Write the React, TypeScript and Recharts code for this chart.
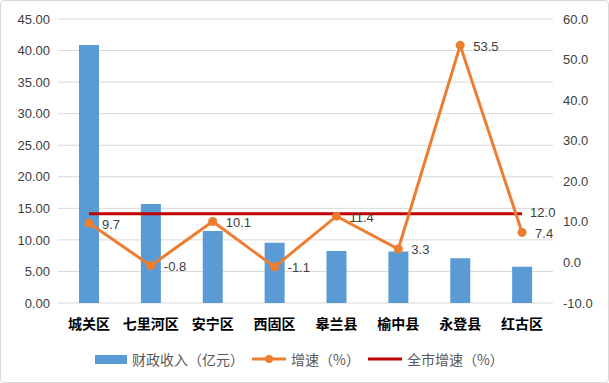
import React from "react";
import {
  Bar,
  CartesianGrid,
  ComposedChart,
  LabelList,
  Legend,
  Line,
  XAxis,
  YAxis,
} from "recharts";

const districts = ["城关区", "七里河区", "安宁区", "西固区", "皋兰县", "榆中县", "永登县", "红古区"];
const revenue = [40.9, 15.7, 11.4, 9.55, 8.25, 8.15, 7.1, 5.75];
const growth = [9.7, -0.8, 10.1, -1.1, 11.4, 3.3, 53.5, 7.4];
const cityGrowth = [12.0, 12.0, 12.0, 12.0, 12.0, 12.0, 12.0, 12.0];

const leftTicks = [0, 5, 10, 15, 20, 25, 30, 35, 40, 45];
const rightTicks = [-10, 0, 10, 20, 30, 40, 50, 60];

const BLUE = "#5B9BD5";
const ORANGE = "#ED7D31";
const RED = "#C00000";
const TEXT = "#404040";
const NUM_FONT = "'Liberation Sans', Arial, sans-serif";
const CJK_FONT = "'Noto Sans CJK SC', sans-serif";

const data = districts.map((name, i) => ({
  name,
  revenue: revenue[i],
  growth: growth[i],
  city: cityGrowth[i],
}));

function PointLabel(props: any) {
  const { x, y, value } = props;
  if (typeof x !== "number" || typeof y !== "number") return null;
  return (
    <text x={x + 13} y={y + 2} fill={TEXT} fontSize={13} fontFamily={NUM_FONT} dominantBaseline="middle">
      {Number(value).toFixed(1)}
    </text>
  );
}

function LastLabel(props: any) {
  const { index } = props;
  if (index !== cityGrowth.length - 1) return null;
  const { x, y, value } = props;
  return (
    <text x={x + 8} y={y} fill={TEXT} fontSize={13} fontFamily={NUM_FONT} dominantBaseline="middle">
      {Number(value).toFixed(1)}
    </text>
  );
}

function LegendBox() {
  const item: React.CSSProperties = { display: "flex", alignItems: "center", marginRight: 8 };
  const label: React.CSSProperties = { color: "#595959", fontSize: 14, fontFamily: CJK_FONT, marginLeft: 5 };
  return (
    <div style={{ display: "flex", alignItems: "center", paddingLeft: 94 }}>
      <div style={item}>
        <div style={{ width: 32, height: 9, background: BLUE }} />
        <span style={label}>财政收入（亿元）</span>
      </div>
      <div style={item}>
        <svg width={34} height={12}>
          <line x1={0} y1={6} x2={34} y2={6} stroke={ORANGE} strokeWidth={3} />
          <circle cx={17} cy={6} r={4} fill={ORANGE} />
        </svg>
        <span style={label}>增速（%）</span>
      </div>
      <div style={item}>
        <svg width={34} height={12}>
          <line x1={0} y1={6} x2={34} y2={6} stroke={RED} strokeWidth={3} />
        </svg>
        <span style={label}>全市增速（%）</span>
      </div>
    </div>
  );
}

export default function App() {
  return (
    <div
      style={{
        position: "absolute",
        left: 0,
        top: 0,
        width: 609,
        height: 383,
        boxSizing: "border-box",
        border: "1px solid #d9d9d9",
        borderRadius: 4,
        background: "#fff",
      }}
    >
      <ComposedChart
        width={607}
        height={381}
        data={data}
        margin={{ top: 18, right: 5, left: 0, bottom: 13 }}
      >
        <CartesianGrid yAxisId="left" vertical={false} stroke="#d9d9d9" strokeWidth={1} />
        <XAxis
          dataKey="name"
          axisLine={false}
          tickLine={false}
          tickMargin={10}
          interval={0}
          height={46}
          tick={{ fill: "#000", fontSize: 14, fontWeight: 700, fontFamily: CJK_FONT }}
        />
        <YAxis
          yAxisId="left"
          domain={[0, 45]}
          ticks={leftTicks}
          width={57}
          axisLine={false}
          tickLine={false}
          tickFormatter={(v: number) => v.toFixed(2)}
          tick={{ fill: TEXT, fontSize: 13, fontFamily: NUM_FONT }}
        />
        <YAxis
          yAxisId="right"
          orientation="right"
          domain={[-10, 60]}
          ticks={rightTicks}
          width={50}
          axisLine={false}
          tickLine={false}
          tickMargin={4}
          tickFormatter={(v: number) => v.toFixed(1)}
          tick={{ fill: TEXT, fontSize: 13, fontFamily: NUM_FONT }}
        />
        <Legend verticalAlign="bottom" content={() => <LegendBox />} wrapperStyle={{ left: 0, width: 607 }} />
        <Bar yAxisId="left" dataKey="revenue" fill={BLUE} barSize={20} isAnimationActive={false} />
        <Line
          yAxisId="right"
          dataKey="city"
          stroke={RED}
          strokeWidth={3}
          dot={false}
          activeDot={false}
          isAnimationActive={false}
        >
          <LabelList dataKey="city" content={LastLabel} />
        </Line>
        <Line
          yAxisId="right"
          dataKey="growth"
          stroke={ORANGE}
          strokeWidth={3}
          dot={{ r: 4.5, fill: ORANGE, stroke: ORANGE, strokeWidth: 0 }}
          activeDot={false}
          isAnimationActive={false}
        >
          <LabelList dataKey="growth" content={PointLabel} />
        </Line>
      </ComposedChart>
    </div>
  );
}
